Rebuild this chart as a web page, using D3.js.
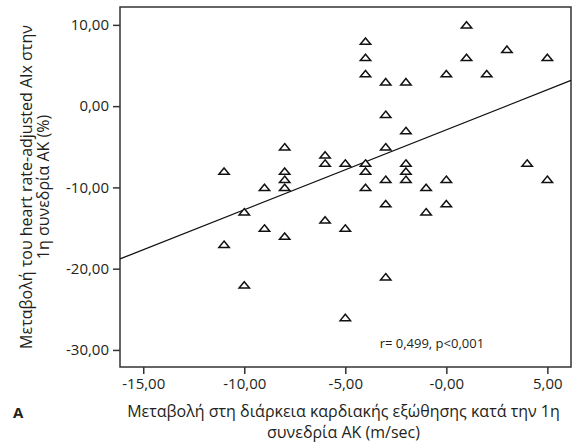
<!DOCTYPE html>
<html>
<head>
<meta charset="utf-8">
<script src="https://cdn.jsdelivr.net/npm/d3@7"></script>
<style>
  body { margin: 0; background: #fff; }
  text { font-family: "Open Sans", "Noto Sans", sans-serif; fill: #231f20; }
</style>
</head>
<body>
<div id="scatter"></div>
<script>
  // valores (x = cambio en duracion, y = cambio AIx)
  var xValues = [-11, -11, -10, -10, -9, -9, -8, -8, -8, -8, -8, -6, -6, -6, -5, -5, -5,
                 -4, -4, -4, -4, -4, -4, -3, -3, -3, -3, -3, -3, -2, -2, -2, -2, -2,
                 -1, -1, 0, 0, 0, 1, 1, 2, 3, 4, 5, 5];
  var yValues = [-8, -17, -13, -22, -10, -15, -5, -8, -9, -10, -16, -6, -7, -14, -7, -15, -26,
                 8, 6, 4, -7, -8, -10, 3, -1, -5, -9, -12, -21, 3, -3, -7, -8, -9,
                 -10, -13, 4, -9, -12, 10, 6, 4, 7, -7, 6, -9];

  var xTicks = [-15, -10, -5, 0, 5];
  var xTickLabels = ["-15,00", "-10,00", "-5,00", "-0,00", "5,00"];
  var yTicks = [10, 0, -10, -20, -30];
  var yTickLabels = ["10,00", "0,00", "-10,00", "-20,00", "-30,00"];

  // recta de regresion
  var fitSlope = 0.984, fitIntercept = -2.91;
  var statText = "r= 0,499, p<0,001";

  var xTitle = ["Μεταβολή στη διάρκεια καρδιακής εξώθησης κατά την 1η", "συνεδρία ΑΚ (m/sec)"];
  var yTitle = ["Μεταβολή του heart rate-adjusted AIx στην", "1η συνεδρία ΑΚ (%)"];

  var margin = {top: 7, right: 1, bottom: 80, left: 120},
      width = 572 - margin.left - margin.right,
      height = 447 - margin.top - margin.bottom;

  var svg = d3.select("#scatter")
    .append("svg")
      .attr("width", 572)
      .attr("height", 447)
    .append("g")
      .attr("transform", "translate(" + margin.left + "," + margin.top + ")");

  var x = d3.scaleLinear().domain([-16.15, 6.17]).range([0, width]);
  var y = d3.scaleLinear().domain([-32.1, 12.2]).range([height, 0]);

  // ejes
  var xAxis = svg.append("g")
    .attr("transform", "translate(0," + height + ")")
    .call(d3.axisBottom(x).tickValues(xTicks).tickSize(7).tickPadding(4)
      .tickFormat(function(d, i) { return xTickLabels[i]; }));
  var yAxis = svg.append("g")
    .call(d3.axisLeft(y).tickValues(yTicks).tickSize(7).tickPadding(4)
      .tickFormat(function(d, i) { return yTickLabels[i]; }));

  [xAxis, yAxis].forEach(function(a) {
    a.select(".domain").remove();
    a.selectAll("line").attr("stroke", "#333").attr("stroke-width", 1.5);
    a.selectAll("text").style("font-size", "15px").attr("fill", "#231f20")
      .style("font-family", "'Open Sans', sans-serif");
  });

  // marco
  svg.append("rect")
    .attr("width", width)
    .attr("height", height)
    .attr("fill", "none")
    .attr("stroke", "#333")
    .attr("stroke-width", 1.5);

  // linea de ajuste
  var xd = x.domain();
  svg.append("path")
    .datum(xd.map(function(v) { return [v, fitIntercept + fitSlope * v]; }))
    .attr("d", d3.line().x(function(d) { return x(d[0]); }).y(function(d) { return y(d[1]); }))
    .attr("fill", "none")
    .attr("stroke", "#111")
    .attr("stroke-width", 1.3);

  // triangulos
  var tri = "M0,-3.2L5.2,3.2L-5.2,3.2Z";
  svg.selectAll("myPoints")
    .data(xValues)
    .enter().append("path")
      .attr("d", tri)
      .attr("transform", function(d, i) { return "translate(" + x(d) + "," + y(yValues[i]) + ")"; })
      .attr("fill", "#fff")
      .attr("stroke", "#111")
      .attr("stroke-width", 1.5);

  svg.append("text")
    .attr("x", x(-3.3))
    .attr("y", y(-29.8))
    .style("font-size", "13px")
    .text(statText);

  // titulos
  svg.append("text")
    .attr("text-anchor", "middle")
    .style("font-size", "16px")
    .selectAll("tspan")
    .data(xTitle).enter()
    .append("tspan")
      .attr("x", width / 2 - 2)
      .attr("y", function(d, i) { return height + 50 + i * 21; })
      .text(function(d) { return d; });

  svg.append("text")
    .attr("text-anchor", "middle")
    .attr("transform", "rotate(-90)")
    .style("font-size", "16px")
    .selectAll("tspan")
    .data(yTitle).enter()
    .append("tspan")
      .attr("x", -height / 2)
      .attr("y", function(d, i) { return -88 + i * 16.5; })
      .text(function(d) { return d; });

  svg.append("text")
    .attr("x", -107)
    .attr("y", 411)
    .style("font-size", "15px")
    .style("font-weight", "bold")
    .text("A");
</script>
</body>
</html>
